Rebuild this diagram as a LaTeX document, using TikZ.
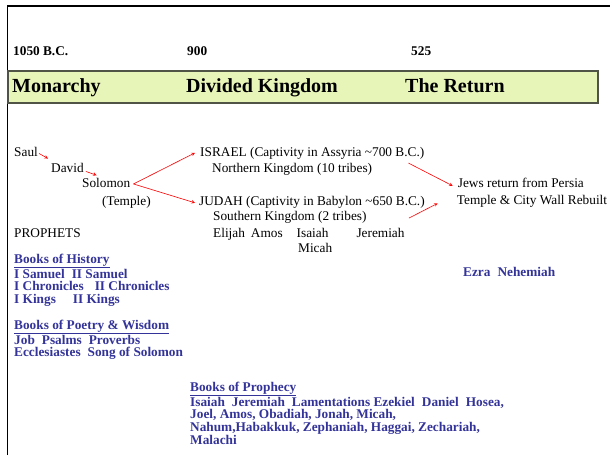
\documentclass[tikz,border=0pt]{standalone}
\usepackage{fontspec}
\setmainfont{Liberation Serif}
\usepackage{tikz}

\definecolor{bandgreen}{RGB}{232,245,184}
\definecolor{bandedge}{RGB}{80,84,70}
\definecolor{bookblue}{RGB}{51,51,153}

\tikzset{
  txt/.style={anchor=base west, inner sep=0pt, font=\fontsize{13.3}{16}\selectfont},
  year/.style={txt, font=\fontsize{13.3}{16}\selectfont\bfseries},
  era/.style={txt, font=\fontsize{20}{24}\selectfont\bfseries},
  books/.style={anchor=north west, inner sep=0pt, align=left, text=bookblue,
    font=\fontsize{13.3}{12.8}\selectfont\bfseries},
  link/.style={red, line width=0.6pt, -stealth}
}

\begin{document}
\begin{tikzpicture}[x=1pt, y=-1pt]
\useasboundingbox (0,0) rectangle (610,455);

\draw [line width=1.5pt] (7.5,455) -- (7.5,6) -- (610,6);
\draw [fill=bandgreen, draw=bandedge, line width=1.3pt] (8,71) rectangle (598,103);

\node [year] (y1050) at (13,55) {1050 B.C.};
\node [year] (y900) at (187,55) {900};
\node [year] (y525) at (411,55) {525};

\node [era] (monarchy) at (12,92) {Monarchy};
\node [era] (divided) at (186,92) {Divided Kingdom};
\node [era] (return) at (405,92) {The Return};

\node [txt] (saul) at (14,156) {Saul};
\node [txt] (david) at (51,172.5) {David};
\node [txt] (solomon) at (82,187.5) {Solomon};
\node [txt] (temple) at (102,205) {(Temple)};

\node [txt] (israel) at (200,156) {ISRAEL (Captivity in Assyria \textasciitilde700 B.C.)};
\node [txt] (north) at (212,172) {Northern Kingdom (10 tribes)};
\node [txt] (judah) at (199,205) {JUDAH (Captivity in Babylon \textasciitilde650 B.C.)};
\node [txt] (south) at (213,220.5) {Southern Kingdom (2 tribes)};

\node [txt] (jews) at (457.7,187.5) {Jews return from Persia};
\node [txt] (rebuilt) at (456.7,204.5) {Temple \& City Wall Rebuilt};

\node [txt] (prophets) at (14,237) {PROPHETS};
\node [txt] (names) at (213,237) {Elijah\hspace{6pt}Amos\hspace{14pt}Isaiah\hspace{28pt}Jeremiah};
\node [txt] (micah) at (298,252.5) {Micah};

\draw [link] ([xshift=1pt,yshift=-2pt]saul.east) -- ([xshift=-3pt,yshift=4.5pt]david.north west);
\draw [link] ([xshift=2pt,yshift=-3.5pt]david.east) -- ([xshift=14.7pt,yshift=2.8pt]solomon.north west);
\draw [link] ([xshift=3pt,yshift=-1pt]solomon.east) -- ([xshift=-5pt]israel.west);
\draw [link] ([xshift=3pt,yshift=-1pt]solomon.east) -- ([xshift=-4pt,yshift=-1pt]judah.west);
\draw [link] ([xshift=-16pt,yshift=-4pt]israel.south east) -- ([xshift=-5pt,yshift=-3pt]jews.west);
\draw [link] ([xshift=-16pt,yshift=-10pt]judah.south east) -- ([xshift=-19pt,yshift=-2pt]rebuilt.west);

\node [books] (history) at (14,253.5) {\underline{Books of History}\\
  I Samuel\hspace{7pt}II Samuel\\
  I Chronicles\hspace{11pt}II Chronicles\\
  I Kings\hspace{17pt}II Kings};
\node [books] (poetry) at (14,319.5) {\underline{Books of Poetry \& Wisdom}\\
  Job\hspace{7pt}Psalms\hspace{7pt}Proverbs\\
  Ecclesiastes\hspace{7pt}Song of Solomon};
\node [books] (prophecy) at (190,381.5) {\underline{Books of Prophecy}\\
  Isaiah\hspace{7pt}Jeremiah\hspace{7pt}Lamentations Ezekiel\hspace{7pt}Daniel\hspace{7pt}Hosea,\\
  Joel, Amos, Obadiah, Jonah, Micah,\\
  Nahum,Habakkuk, Zephaniah, Haggai, Zechariah,\\
  Malachi};
\node [txt, text=bookblue, font=\fontsize{13.3}{16}\selectfont\bfseries] (ezra) at (463,276) {Ezra\hspace{7pt}Nehemiah};

\end{tikzpicture}
\end{document}
